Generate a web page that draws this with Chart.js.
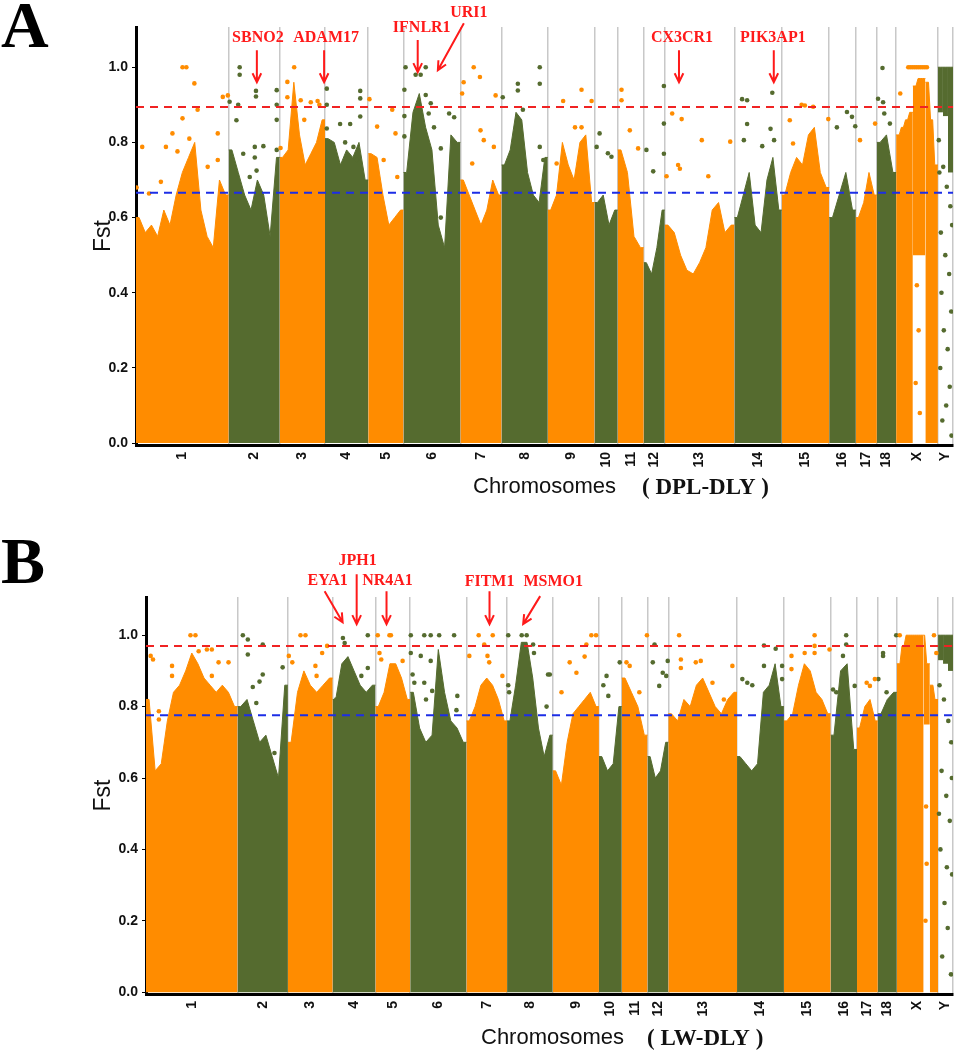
<!DOCTYPE html>
<html>
<head>
<meta charset="utf-8">
<title>Fst Manhattan plots</title>
<script src="https://cdn.jsdelivr.net/npm/chart.js@4.4.0/dist/chart.umd.min.js"></script>
<style>
  body { margin: 0; background: #fff; width: 964px; height: 1051px; position: relative; overflow: hidden; }
  canvas { position: absolute; left: 0; }
</style>
</head>
<body>
<canvas id="chartA" style="top:0" width="964" height="520"></canvas>
<canvas id="chartB" style="top:520px" width="964" height="531"></canvas>
<script>
const chromNames = ['1','2','3','4','5','6','7','8','9','10','11','12','13','14','15','16','17','18','X','Y'];
const chromLen = [313,172,153,146,119,192,139,156,158,78,88,71,235,160,160,90,71,65,141,51];
const yTicks = [0, 0.2, 0.4, 0.6, 0.8, 1.0];

// dense SNP cloud: upper edge, sampled evenly along each chromosome
const envA = [
  [0.60,0.56,0.58,0.55,0.62,0.58,0.66,0.72,0.76,0.80,0.62,0.55,0.52,0.70,0.66],
  [0.78,0.72,0.66,0.62,0.70,0.66,0.55,0.76],
  [0.76,0.78,0.96,0.82,0.74,0.77,0.80,0.86],
  [0.81,0.80,0.74,0.78,0.76,0.80,0.70],
  [0.77,0.76,0.66,0.58,0.60,0.62],
  [0.72,0.88,0.93,0.84,0.78,0.58,0.52,0.82,0.80],
  [0.70,0.66,0.62,0.58,0.62,0.70,0.66],
  [0.74,0.78,0.88,0.86,0.72,0.66,0.64,0.76],
  [0.62,0.66,0.80,0.74,0.70,0.80,0.82,0.64],
  [0.64,0.66,0.58,0.62],
  [0.78,0.72,0.55,0.52],
  [0.48,0.45,0.52,0.62],
  [0.58,0.56,0.50,0.46,0.45,0.48,0.52,0.62,0.64,0.56,0.58],
  [0.60,0.66,0.72,0.58,0.56,0.70,0.76,0.62],
  [0.66,0.72,0.76,0.74,0.82,0.84,0.72,0.68],
  [0.60,0.66,0.72,0.62],
  [0.60,0.64,0.72,0.66],
  [0.80,0.82,0.72],
  [0.82,0.82,0.84,0.84,0.86,0.86,0.88,0.88,0.95,0.95,0.97,0.97,0.97,0.97,0.96,0.96,0.86,0.86,0.74,0.74],
  [1.00,1.00,1.00]
];
const envB = [
  [0.82,0.62,0.64,0.76,0.84,0.86,0.90,0.95,0.92,0.88,0.86,0.84,0.86,0.84,0.80],
  [0.80,0.82,0.76,0.70,0.72,0.66,0.60,0.86],
  [0.70,0.84,0.90,0.86,0.84,0.86,0.88],
  [0.82,0.92,0.94,0.90,0.86,0.84,0.86],
  [0.80,0.84,0.92,0.92,0.88,0.82],
  [0.84,0.74,0.70,0.72,0.96,0.84,0.76,0.74,0.70],
  [0.76,0.80,0.86,0.88,0.86,0.82,0.76],
  [0.76,0.86,0.98,0.98,0.88,0.74,0.66,0.72],
  [0.62,0.58,0.70,0.78,0.80,0.82,0.84,0.80],
  [0.66,0.62,0.64,0.80],
  [0.88,0.84,0.80,0.72],
  [0.66,0.60,0.62,0.70],
  [0.78,0.76,0.82,0.80,0.86,0.88,0.84,0.80,0.78,0.82,0.84],
  [0.66,0.64,0.62,0.64,0.84,0.86,0.92,0.80],
  [0.76,0.78,0.86,0.92,0.90,0.84,0.82,0.78],
  [0.72,0.90,0.92,0.68],
  [0.74,0.80,0.82,0.76],
  [0.78,0.82,0.84],
  [0.92,0.92,0.97,0.97,1.00,1.00,1.00,1.00,1.00,1.00,1.00,1.00,1.00,1.00,0.92,0.92,0.86,0.86,0.82,0.82],
  [1.00,1.00,1.00]
];
// lower edge where the cloud does not reach 0
const floorA = {
  X: [0,0,0,0,0,0,0,0,0.5,0.5,0.5,0.5,0.5,0.5,0,0,0,0,0,0],
  Y: [0.88,0.87,0.72]
};
const floorB = {
  X: [0,0,0,0,0,0,0,0,0,0,0,0,0,0.75,0.75,0.75,0,0,0,0],
  Y: [0.93,0.92,0.90]
};

// sparse SNPs above the cloud: [chromosome, position Mb, Fst]
const dotsA = [
  ['1',157,1.0],['1',170,1.0],['1',197,0.957],['1',208,0.887],['1',157,0.864],['1',123,0.824],['1',101,0.788],
  ['1',21,0.788],['1',84,0.695],['1',44,0.664],['1',276,0.824],['1',293,0.921],['1',310,0.925],['1',276,0.753],
  ['1',180,0.81],['1',140,0.776],['1',242,0.735],['1',2,0.68],
  ['2',37,1.0],['2',37,0.98],['2',92,0.937],['2',92,0.922],['2',3,0.908],['2',32,0.90],['2',26,0.859],['2',88,0.788],
  ['2',117,0.79],['2',88,0.76],['2',49,0.77],['2',71,0.708],['2',94,0.725],['2',162,0.939],['2',162,0.90],['2',162,0.86],['2',162,0.78],
  ['3',49,1.0],['3',26,0.961],['3',71,0.912],['3',105,0.907],['3',128,0.91],['3',134,0.90],['3',26,0.92],['3',3,0.785],['3',83,0.86],
  ['4',6,0.943],['4',6,0.90],['4',6,0.837],['4',119,0.937],['4',119,0.917],['4',119,0.869],['4',51,0.849],['4',85,0.849],
  ['4',68,0.80],['4',96,0.788],['4',108,0.753],
  ['5',4,0.915],['5',30,0.842],['5',81,0.887],['5',92,0.824],['5',52,0.753],['5',98,0.708],
  ['6',7,1.0],['6',75,1.0],['6',41,0.98],['6',58,0.98],['6',3,0.94],['6',3,0.87],['6',3,0.816],['6',75,0.926],['6',92,0.904],
  ['6',85,0.877],['6',103,0.84],['6',126,0.784],['6',154,0.877],['6',171,0.867],['6',126,0.6],
  ['7',45,1.0],['7',66,0.974],['7',11,0.96],['7',6,0.93],['7',119,0.925],['7',68,0.832],['7',79,0.806],['7',113,0.788],['7',40,0.744],
  ['8',129,1.0],['8',129,0.956],['8',55,0.956],['8',55,0.938],['8',4,0.92],['8',72,0.887],['8',129,0.788],['8',141,0.753],
  ['9',52,0.91],['9',114,0.94],['9',148,0.91],['9',92,0.84],['9',114,0.84],['9',30,0.744],
  ['10',17,0.824],['10',45,0.771],['10',57,0.762],['10',7,0.788],
  ['11',13,0.94],['11',13,0.912],['11',69,0.784],['11',41,0.832],
  ['12',68,0.95],['12',68,0.85],['12',68,0.77],['12',9,0.78],['12',32,0.723],
  ['13',25,0.877],['13',57,0.862],['13',125,0.806],['13',221,0.802],['13',45,0.74],['13',51,0.73],['13',147,0.71],['13',6,0.71],
  ['14',128,0.932],['14',26,0.915],['14',43,0.912],['14',43,0.849],['14',122,0.836],['14',134,0.806],['14',94,0.79],['14',32,0.806],
  ['15',67,0.90],['15',78,0.898],['15',106,0.895],['15',27,0.859],['15',157,0.862],['15',38,0.797],
  ['16',26,0.84],['16',60,0.881],['16',77,0.868],['16',88,0.843],
  ['17',65,0.85],['17',14,0.806],
  ['18',19,0.998],['18',4,0.916],['18',21,0.907],['18',25,0.877],['18',44,0.85],
  ['X',41,1.0],['X',48,1.0],['X',55,1.0],['X',62,1.0],['X',69,1.0],['X',76,1.0],['X',83,1.0],['X',90,1.0],['X',97,1.0],['X',104,1.0],['X',14,0.93],
  ['X',70,0.42],['X',76,0.3],['X',66,0.16],['X',80,0.08],
  ['Y',3,0.806],['Y',18,0.735],['Y',30,0.682],['Y',42,0.63],['Y',10,0.56],['Y',25,0.5],['Y',38,0.45],['Y',12,0.4],['Y',45,0.35],
  ['Y',20,0.3],['Y',33,0.25],['Y',8,0.2],['Y',40,0.15],['Y',28,0.1],['Y',15,0.06],['Y',46,0.02],['Y',48,0.58],['Y',5,0.72]
];
const dotsB = [
  ['1',152,1.0],['1',169,1.0],['1',16,0.942],['1',24,0.932],['1',180,0.955],['1',208,0.96],['1',225,0.96],['1',89,0.914],
  ['1',248,0.924],['1',282,0.924],['1',225,0.886],['1',44,0.787],['1',44,0.764],['1',89,0.886],
  ['2',18,1.0],['2',35,0.988],['2',35,0.946],['2',86,0.974],['2',86,0.89],['2',75,0.87],['2',52,0.855],['2',64,0.81],['2',126,0.67],['2',154,0.91],
  ['3',43,1.0],['3',60,1.0],['3',3,0.942],['3',15,0.924],['3',94,0.914],['3',117,0.95],['3',134,0.97],['3',98,0.886],
  ['4',35,0.992],['4',41,0.978],['4',120,1.0],['4',120,0.908],['4',12,0.82],['4',98,0.886],
  ['5',14,0.95],['5',8,1.0],['5',48,1.0],['5',53,1.0],['5',93,0.928],['5',20,0.932],
  ['6',2,1.0],['6',48,1.0],['6',70,1.0],['6',99,1.0],['6',150,1.0],['6',36,0.942],['6',70,0.928],['6',2,0.95],['6',48,0.867],
  ['6',75,0.844],['6',54,0.82],['6',8,0.89],['6',14,0.867],['6',161,0.83],['6',158,0.79],
  ['7',42,1.0],['7',90,1.0],['7',61,0.974],['7',10,0.942],['7',72,0.942],['7',78,0.924],['7',123,0.886],
  ['8',4,1.0],['8',50,1.0],['8',67,1.0],['8',89,0.974],['8',92,0.95],['8',146,0.89],['8',140,0.89],['8',4,0.86],['8',7,0.84],['8',135,0.80],
  ['9',132,1.0],['9',148,1.0],['9',115,0.974],['9',58,0.924],['9',81,0.895],['9',109,0.94],['9',30,0.84],
  ['10',26,0.886],['10',32,0.83],['10',15,0.86],['10',71,0.924],
  ['11',16,0.924],['11',27,0.914],['11',86,1.0],['11',60,0.84],
  ['12',24,0.974],['12',18,0.924],['12',52,0.895],['12',64,0.886],['12',69,0.928],['12',40,0.858],
  ['13',37,1.0],['13',43,0.932],['13',43,0.908],['13',94,0.924],['13',111,0.928],['13',151,0.867],['13',219,0.914],['13',190,0.82],
  ['14',18,0.877],['14',35,0.867],['14',52,0.86],['14',92,0.971],['14',132,0.962],['14',92,0.914],['14',154,0.914],['14',154,0.877],
  ['15',105,1.0],['15',105,0.97],['15',105,0.95],['15',26,0.942],['15',71,0.95],['15',156,0.96],['15',26,0.905],
  ['16',53,1.0],['16',53,0.974],['16',42,0.942],['16',8,0.848],['16',19,0.84],['16',82,0.858],
  ['17',33,0.867],['17',44,0.858],['17',61,0.877],
  ['18',18,0.95],['18',18,0.942],['18',63,1.0],['18',2,0.877],['18',30,0.84],
  ['X',10,1.0],['X',127,1.0],['X',135,0.95],['X',100,0.52],['X',102,0.36],['X',98,0.2],
  ['Y',5,0.86],['Y',20,0.82],['Y',35,0.76],['Y',45,0.7],['Y',12,0.62],['Y',28,0.55],['Y',40,0.48],['Y',8,0.4],
  ['Y',48,0.33],['Y',22,0.25],['Y',33,0.18],['Y',14,0.1],['Y',44,0.05],['Y',30,0.35],['Y',3,0.5],['Y',47,0.6]
];

// significance thresholds [red, blue]
const cutA = [0.894, 0.666];
const cutB = [0.97, 0.776];

// candidate genes and the SNP each arrow points at
const genesA = ['SBNO2','ADAM17','IFNLR1','URI1','CX3CR1','PIK3AP1'];
const siteA = [['2',95,0.96],['3',150,0.96],['6',48,0.987],['6',116,0.992],['13',48,0.96],['14',133,0.96]];
const genesB = ['EYA1','JPH1','NR4A1','FITM1','MSMO1'];
const siteB = [['4',34,1.036],['4',82,1.031],['5',38,1.031],['7',79,1.031],['8',55,1.031]];
// arrow layout in px relative to the tip: [tail dx, tail dy, text dx, text dy]
const arrowA = [[0,-32,1,-44],[0,-32,2,-44],[0,-32,4,-44],[26,-47,31,-57],[0,-32,3,-44],[0,-32,-1,-44]];
const arrowB = [[-18,-31,-15,-41],[0,-50,1,-63],[0,-33,1,-43],[0,-33,0,-42],[17,-28,30,-42]];

const ORANGE = '#ff8c00', GREEN = '#556b2f';
const starts = [];
chromLen.reduce((acc, l) => { starts.push(acc); return acc + l; }, 0);
const total = chromLen.reduce((a, b) => a + b, 0);
const centres = chromLen.map((l, i) => starts[i] + l / 2);
const bounds = starts.concat([total]);

// split a chromosome's profile into runs that share the same lower edge
function runs(ci, vals, fl) {
  const s = starts[ci], L = chromLen[ci], n = vals.length, out = [];
  const f = i => (fl ? fl[i] : 0);
  let i0 = 0;
  for (let i = 1; i <= n; i++) {
    if (i === n || f(i) !== f(i0)) {
      const pts = [{ x: s + i0 / n * L, y: vals[i0] }];
      for (let k = i0; k < i; k++) pts.push({ x: s + (k + 0.5) / n * L, y: vals[k] });
      pts.push({ x: s + i / n * L, y: vals[i - 1] });
      out.push({ floor: f(i0), pts });
      i0 = i;
    }
  }
  return out;
}

function gpos(chrom, pos) {
  return starts[chromNames.indexOf(chrom)] + pos;
}

const decor = {
  id: 'decor',
  afterDraw(chart, args, o) {
    const { ctx, chartArea, scales: { x, y } } = chart;
    ctx.save();
    ctx.fillStyle = '#000';
    ctx.textAlign = 'left';
    ctx.textBaseline = 'alphabetic';
    ctx.font = 'bold 66px "Liberation Serif", serif';
    ctx.fillText(o.letter, 1, o.letterY);

    // y title
    ctx.save();
    ctx.translate(o.yTitleX, (chartArea.top + chartArea.bottom) / 2);
    ctx.rotate(-Math.PI / 2);
    ctx.textAlign = 'center';
    ctx.textBaseline = 'middle';
    ctx.font = '23px "Liberation Sans", Arial, sans-serif';
    ctx.fillStyle = '#111';
    ctx.fillText('Fst', 0, 0);
    ctx.restore();

    // x title
    ctx.textBaseline = 'middle';
    ctx.fillStyle = '#111';
    ctx.font = '22px "Liberation Sans", Arial, sans-serif';
    ctx.fillText('Chromosomes', o.xTitleLeft, o.xTitleY);
    ctx.font = 'bold 23px "Liberation Serif", serif';
    ctx.fillText(o.tag, o.tagLeft, o.xTitleY + 1);

    // gene arrows
    ctx.strokeStyle = '#ff1a1a';
    ctx.fillStyle = '#ff1a1a';
    ctx.lineWidth = 2;
    ctx.font = 'bold 16px "Liberation Serif", serif';
    ctx.textAlign = 'center';
    o.genes.forEach((g, i) => {
      const s = o.sites[i], a = o.arrows[i];
      const tx = x.getPixelForValue(gpos(s[0], s[1]));
      const ty = y.getPixelForValue(s[2]);
      const sx = tx + a[0], sy = ty + a[1];
      ctx.beginPath();
      ctx.moveTo(sx, sy);
      ctx.lineTo(tx, ty);
      const ang = Math.atan2(ty - sy, tx - sx), hl = 10, sp = 0.45;
      ctx.moveTo(tx - hl * Math.cos(ang - sp), ty - hl * Math.sin(ang - sp));
      ctx.lineTo(tx, ty);
      ctx.lineTo(tx - hl * Math.cos(ang + sp), ty - hl * Math.sin(ang + sp));
      ctx.stroke();
      ctx.fillText(g, tx + a[2], ty + a[3]);
    });
    ctx.restore();
  }
};

function buildPanel(id, env, floors, dots, cuts, look) {
  const datasets = [];
  env.forEach((vals, ci) => {
    const col = ci % 2 ? GREEN : ORANGE;
    runs(ci, vals, floors[chromNames[ci]]).forEach(r => {
      datasets.push({
        data: r.pts, borderColor: col, backgroundColor: col, borderWidth: 1,
        pointRadius: 0, tension: 0, fill: { value: r.floor }, order: 2
      });
    });
  });
  [ORANGE, GREEN].forEach((col, k) => {
    datasets.push({
      data: dots.filter(d => chromNames.indexOf(d[0]) % 2 === k).map(d => ({ x: gpos(d[0], d[1]), y: d[2] })),
      showLine: false, pointRadius: 2.3, pointBackgroundColor: col, pointBorderWidth: 0, order: 1
    });
  });
  cuts.forEach((c, k) => {
    datasets.push({
      data: [{ x: 0, y: c }, { x: total, y: c }], borderColor: k ? '#1c2ee6' : '#f02323',
      borderDash: [8, 6], borderWidth: 2, pointRadius: 0, fill: false, order: 0
    });
  });

  const tickFont = { family: '"Liberation Sans", Arial, sans-serif', size: 14, weight: 'bold' };
  return new Chart(document.getElementById(id), {
    type: 'line',
    data: { datasets },
    options: {
      responsive: false,
      animation: false,
      events: [],
      layout: { padding: { top: look.padTop, right: 11, left: 0, bottom: 0 } },
      plugins: { legend: { display: false }, tooltip: { enabled: false }, decor: look },
      scales: {
        x: {
          type: 'linear', min: 0, max: total,
          afterFit: s => { s.height = look.xH; s.paddingLeft = 0; s.paddingRight = 0; },
          afterBuildTicks: s => { s.ticks = bounds.concat(centres).sort((a, b) => a - b).map(v => ({ value: v })); },
          ticks: {
            autoSkip: false, minRotation: 90, maxRotation: 90, padding: 7, color: '#111', font: tickFont,
            callback: v => { const i = centres.findIndex(c => Math.abs(c - v) < 1e-6); return i < 0 ? '' : chromNames[i]; }
          },
          grid: {
            drawTicks: false, lineWidth: 1.5,
            color: c => (c.tick && bounds.some(b => Math.abs(b - c.tick.value) < 1e-6)) ? '#c8c8c8' : 'rgba(0,0,0,0)'
          },
          border: { display: true, color: '#000', width: 3 }
        },
        y: {
          min: -0.005, max: 1.107,
          afterFit: s => { s.width = look.yW; s.paddingTop = 0; s.paddingBottom = 0; },
          afterBuildTicks: s => { s.ticks = yTicks.map(v => ({ value: v })); },
          ticks: { padding: 4, color: '#111', font: tickFont, callback: v => v.toFixed(1) },
          grid: { drawOnChartArea: false, drawTicks: true, tickLength: 4, color: '#000', lineWidth: 1 },
          border: { display: true, color: '#000', width: 3 }
        }
      }
    },
    plugins: [decor]
  });
}

buildPanel('chartA', envA, floorA, dotsA, cutA, {
  letter: 'A', letterY: 47, padTop: 27, yW: 136, xH: 75, yTitleX: 104,
  xTitleY: 487, xTitleLeft: 473, tag: '( DPL-DLY )', tagLeft: 642,
  genes: genesA, sites: siteA, arrows: arrowA
});
buildPanel('chartB', envB, floorB, dotsB, cutB, {
  letter: 'B', letterY: 63, padTop: 77, yW: 146, xH: 57, yTitleX: 104,
  xTitleY: 518, xTitleLeft: 481, tag: '( LW-DLY )', tagLeft: 647,
  genes: genesB, sites: siteB, arrows: arrowB
});
</script>
</body>
</html>
